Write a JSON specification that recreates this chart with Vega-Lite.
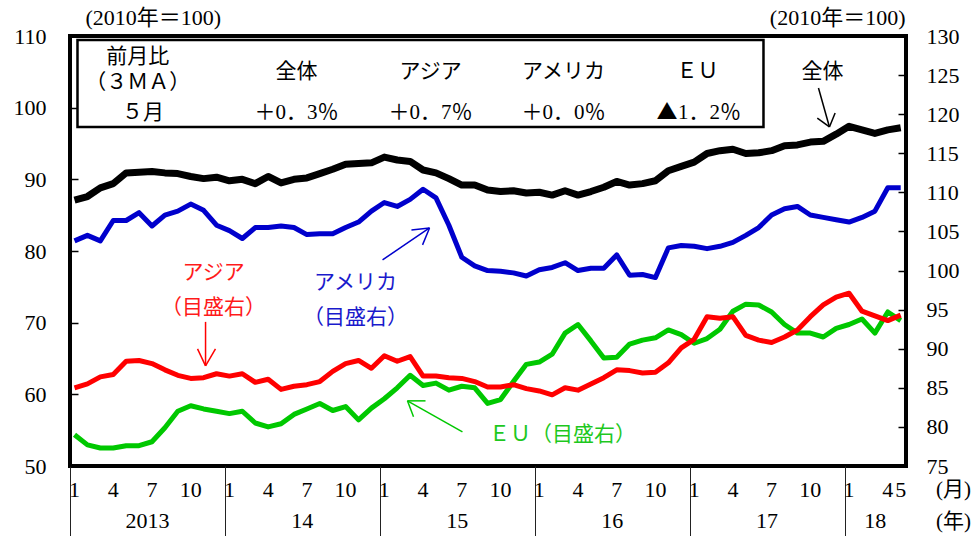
{
  "$schema": "https://vega.github.io/schema/vega-lite/v6.json",
  "width": 836,
  "height": 430,
  "autosize": {"type": "none"},
  "padding": {"left": 70, "top": 36, "right": 71, "bottom": 70},
  "background": "white",
  "config": {
    "view": {"stroke": "black", "strokeWidth": 4},
    "axis": {"grid": false, "domain": false, "labelFont": "Liberation Serif", "labelFontSize": 22, "labelColor": "black", "tickColor": "black", "labelOverlap": false, "labelFlush": false},
    "text": {"font": "'Liberation Serif', 'Noto Sans CJK JP', serif", "fontSize": 21, "baseline": "middle", "align": "center", "color": "black"}
  },
  "datasets": {
    "exports": [
      {"t":0,"m":"2013-01","mo":1,"total":87.1,"asia":85.0,"america":103.8,"eu":79.0},
      {"t":1,"m":"2013-02","mo":2,"total":87.6,"asia":85.5,"america":104.5,"eu":77.7},
      {"t":2,"m":"2013-03","mo":3,"total":88.8,"asia":86.4,"america":103.8,"eu":77.3},
      {"t":3,"m":"2013-04","mo":4,"total":89.4,"asia":86.7,"america":106.4,"eu":77.3},
      {"t":4,"m":"2013-05","mo":5,"total":90.9,"asia":88.4,"america":106.4,"eu":77.6},
      {"t":5,"m":"2013-06","mo":6,"total":91.0,"asia":88.5,"america":107.4,"eu":77.6},
      {"t":6,"m":"2013-07","mo":7,"total":91.1,"asia":88.1,"america":105.7,"eu":78.1},
      {"t":7,"m":"2013-08","mo":8,"total":90.9,"asia":87.3,"america":107.1,"eu":79.9},
      {"t":8,"m":"2013-09","mo":9,"total":90.8,"asia":86.6,"america":107.6,"eu":82.0},
      {"t":9,"m":"2013-10","mo":10,"total":90.4,"asia":86.2,"america":108.5,"eu":82.7},
      {"t":10,"m":"2013-11","mo":11,"total":90.1,"asia":86.3,"america":107.7,"eu":82.3},
      {"t":11,"m":"2013-12","mo":12,"total":90.3,"asia":86.8,"america":105.8,"eu":82.0},
      {"t":12,"m":"2014-01","mo":1,"total":89.8,"asia":86.5,"america":105.1,"eu":81.7},
      {"t":13,"m":"2014-02","mo":2,"total":90.0,"asia":86.8,"america":104.1,"eu":82.0},
      {"t":14,"m":"2014-03","mo":3,"total":89.4,"asia":85.7,"america":105.5,"eu":80.5},
      {"t":15,"m":"2014-04","mo":4,"total":90.4,"asia":86.1,"america":105.5,"eu":80.0},
      {"t":16,"m":"2014-05","mo":5,"total":89.5,"asia":84.8,"america":105.7,"eu":80.4},
      {"t":17,"m":"2014-06","mo":6,"total":90.0,"asia":85.2,"america":105.5,"eu":81.6},
      {"t":18,"m":"2014-07","mo":7,"total":90.2,"asia":85.4,"america":104.6,"eu":82.3},
      {"t":19,"m":"2014-08","mo":8,"total":90.8,"asia":85.8,"america":104.7,"eu":83.0},
      {"t":20,"m":"2014-09","mo":9,"total":91.4,"asia":87.1,"america":104.7,"eu":82.1},
      {"t":21,"m":"2014-10","mo":10,"total":92.1,"asia":88.1,"america":105.5,"eu":82.6},
      {"t":22,"m":"2014-11","mo":11,"total":92.2,"asia":88.5,"america":106.2,"eu":80.9},
      {"t":23,"m":"2014-12","mo":12,"total":92.3,"asia":87.5,"america":107.6,"eu":82.4},
      {"t":24,"m":"2015-01","mo":1,"total":93.1,"asia":89.1,"america":108.7,"eu":83.6},
      {"t":25,"m":"2015-02","mo":2,"total":92.7,"asia":88.4,"america":108.2,"eu":85.0},
      {"t":26,"m":"2015-03","mo":3,"total":92.5,"asia":89.0,"america":109.1,"eu":86.6},
      {"t":27,"m":"2015-04","mo":4,"total":91.3,"asia":86.5,"america":110.4,"eu":85.3},
      {"t":28,"m":"2015-05","mo":5,"total":90.9,"asia":86.5,"america":109.3,"eu":85.6},
      {"t":29,"m":"2015-06","mo":6,"total":90.1,"asia":86.3,"america":105.8,"eu":84.7},
      {"t":30,"m":"2015-07","mo":7,"total":89.2,"asia":86.2,"america":101.7,"eu":85.2},
      {"t":31,"m":"2015-08","mo":8,"total":89.2,"asia":85.8,"america":100.6,"eu":85.0},
      {"t":32,"m":"2015-09","mo":9,"total":88.5,"asia":85.1,"america":100.0,"eu":83.0},
      {"t":33,"m":"2015-10","mo":10,"total":88.3,"asia":85.1,"america":99.9,"eu":83.5},
      {"t":34,"m":"2015-11","mo":11,"total":88.4,"asia":85.4,"america":99.7,"eu":85.8},
      {"t":35,"m":"2015-12","mo":12,"total":88.1,"asia":84.9,"america":99.3,"eu":88.0},
      {"t":36,"m":"2016-01","mo":1,"total":88.2,"asia":84.6,"america":100.1,"eu":88.3},
      {"t":37,"m":"2016-02","mo":2,"total":87.8,"asia":84.1,"america":100.4,"eu":89.3},
      {"t":38,"m":"2016-03","mo":3,"total":88.4,"asia":85.0,"america":101.0,"eu":92.0},
      {"t":39,"m":"2016-04","mo":4,"total":87.8,"asia":84.7,"america":100.0,"eu":93.1},
      {"t":40,"m":"2016-05","mo":5,"total":88.3,"asia":85.5,"america":100.3,"eu":91.0},
      {"t":41,"m":"2016-06","mo":6,"total":88.9,"asia":86.3,"america":100.3,"eu":88.8},
      {"t":42,"m":"2016-07","mo":7,"total":89.7,"asia":87.3,"america":102.0,"eu":88.9},
      {"t":43,"m":"2016-08","mo":8,"total":89.2,"asia":87.2,"america":99.4,"eu":90.6},
      {"t":44,"m":"2016-09","mo":9,"total":89.4,"asia":86.9,"america":99.5,"eu":91.1},
      {"t":45,"m":"2016-10","mo":10,"total":89.8,"asia":87.0,"america":99.1,"eu":91.4},
      {"t":46,"m":"2016-11","mo":11,"total":91.2,"asia":88.2,"america":102.9,"eu":92.4},
      {"t":47,"m":"2016-12","mo":12,"total":91.8,"asia":90.1,"america":103.2,"eu":91.8},
      {"t":48,"m":"2017-01","mo":1,"total":92.4,"asia":91.2,"america":103.1,"eu":90.7},
      {"t":49,"m":"2017-02","mo":2,"total":93.6,"asia":94.1,"america":102.8,"eu":91.3},
      {"t":50,"m":"2017-03","mo":3,"total":94.0,"asia":93.9,"america":103.1,"eu":92.5},
      {"t":51,"m":"2017-04","mo":4,"total":94.2,"asia":94.1,"america":103.6,"eu":94.8},
      {"t":52,"m":"2017-05","mo":5,"total":93.6,"asia":91.7,"america":104.5,"eu":95.7},
      {"t":53,"m":"2017-06","mo":6,"total":93.7,"asia":91.1,"america":105.5,"eu":95.6},
      {"t":54,"m":"2017-07","mo":7,"total":94.0,"asia":90.8,"america":107.1,"eu":94.7},
      {"t":55,"m":"2017-08","mo":8,"total":94.7,"asia":91.5,"america":107.9,"eu":93.1},
      {"t":56,"m":"2017-09","mo":9,"total":94.8,"asia":92.4,"america":108.2,"eu":92.0},
      {"t":57,"m":"2017-10","mo":10,"total":95.2,"asia":94.1,"america":107.1,"eu":92.0},
      {"t":58,"m":"2017-11","mo":11,"total":95.3,"asia":95.6,"america":106.8,"eu":91.5},
      {"t":59,"m":"2017-12","mo":12,"total":96.3,"asia":96.6,"america":106.5,"eu":92.6},
      {"t":60,"m":"2018-01","mo":1,"total":97.4,"asia":97.1,"america":106.2,"eu":93.1},
      {"t":61,"m":"2018-02","mo":2,"total":96.9,"asia":94.8,"america":106.8,"eu":93.8},
      {"t":62,"m":"2018-03","mo":3,"total":96.4,"asia":94.2,"america":107.6,"eu":92.0},
      {"t":63,"m":"2018-04","mo":4,"total":96.9,"asia":93.6,"america":110.6,"eu":94.7},
      {"t":64,"m":"2018-05","mo":5,"total":97.2,"asia":94.3,"america":110.6,"eu":93.6}
    ]
  },
  "layer": [
    {
      "data": {"values": [{}]},
      "layer": [
        {
          "data": {"name": "exports"},
          "mark": {"type": "line", "color": "black", "strokeWidth": 7, "strokeJoin": "round"},
          "encoding": {
            "x": {"field": "t", "type": "quantitative", "scale": {"domain": [-0.35, 64.41], "nice": false, "zero": false},
              "axis": {"orient": "bottom", "labels": false, "ticks": false, "domain": false, "grid": false, "title": null}},
            "y": {"field": "total", "type": "quantitative", "scale": {"domain": [50, 110], "nice": false, "zero": false},
              "axis": {"orient": "left", "values": [50,60,70,80,90,100,110], "tickSize": -8, "tickWidth": 1.5, "labelPadding": 32, "domain": false, "grid": false, "title": null}}
          }
        },
        {
          "data": {"name": "exports"},
          "transform": [{"filter": "datum.mo == 1 || datum.mo == 4 || datum.mo == 7 || datum.mo == 10 || datum.t == 64"}],
          "mark": {"type": "text", "fontSize": 22, "font": "Liberation Serif"},
          "encoding": {"x": {"field": "t", "type": "quantitative"}, "y": {"datum": 46.68}, "text": {"field": "mo", "type": "quantitative"}}
        },
        {"mark": {"type": "rect", "fill": "white", "stroke": "black", "strokeWidth": 2.5},
         "encoding": {"x": {"datum": 0.23}, "x2": {"datum": 53.37}, "y": {"datum": 109.44}, "y2": {"datum": 97.31}}},
        {"mark": {"type": "text", "text": "前月比"}, "encoding": {"x": {"datum": 4.9}, "y": {"datum": 107.07}}},
        {"mark": {"type": "text", "text": "（３ＭＡ）"}, "encoding": {"x": {"datum": 4.9}, "y": {"datum": 103.44}}},
        {"mark": {"type": "text", "text": "５月"}, "encoding": {"x": {"datum": 5.3}, "y": {"datum": 99.26}}},
        {"mark": {"type": "text", "text": "全体"}, "encoding": {"x": {"datum": 17.2}, "y": {"datum": 104.98}}},
        {"mark": {"type": "text", "text": "アジア"}, "encoding": {"x": {"datum": 27.58}, "y": {"datum": 104.98}}},
        {"mark": {"type": "text", "text": "アメリカ"}, "encoding": {"x": {"datum": 37.88}, "y": {"datum": 104.98}}},
        {"mark": {"type": "text", "text": "ＥＵ"}, "encoding": {"x": {"datum": 48.26}, "y": {"datum": 104.98}}},
        {"mark": {"type": "text", "text": "＋0．3％"}, "encoding": {"x": {"datum": 17.2}, "y": {"datum": 99.26}}},
        {"mark": {"type": "text", "text": "＋0．7％"}, "encoding": {"x": {"datum": 27.58}, "y": {"datum": 99.26}}},
        {"mark": {"type": "text", "text": "＋0．0％"}, "encoding": {"x": {"datum": 37.88}, "y": {"datum": 99.26}}},
        {"mark": {"type": "text", "text": "▲", "font": "Noto Sans CJK JP", "align": "right"}, "encoding": {"x": {"datum": 46.7}, "y": {"datum": 99.26}}},
        {"mark": {"type": "text", "text": "1．2％", "align": "left"}, "encoding": {"x": {"datum": 46.75}, "y": {"datum": 99.26}}},
        {"mark": {"type": "text", "text": "(2010年＝100)", "align": "left", "fontSize": 22}, "encoding": {"x": {"datum": 0.85}, "y": {"datum": 112.51}}},
        {"mark": {"type": "text", "text": "(2010年＝100)", "align": "right", "fontSize": 22}, "encoding": {"x": {"datum": 64.37}, "y": {"datum": 112.51}}},
        {"mark": {"type": "text", "text": "全体"}, "encoding": {"x": {"datum": 57.94}, "y": {"datum": 104.98}}},
        {"mark": {"type": "rule", "color": "black", "strokeWidth": 1.5}, "encoding": {"x": {"datum": 57.63}, "y": {"datum": 102.75}, "x2": {"datum": 58.48}, "y2": {"datum": 97.31}}},
        {"mark": {"type": "rule", "color": "black", "strokeWidth": 1.5}, "encoding": {"x": {"datum": 58.92}, "y": {"datum": 99.25}, "x2": {"datum": 58.48}, "y2": {"datum": 97.31}}},
        {"mark": {"type": "rule", "color": "black", "strokeWidth": 1.5}, "encoding": {"x": {"datum": 57.54}, "y": {"datum": 98.55}, "x2": {"datum": 58.48}, "y2": {"datum": 97.31}}},
        {"mark": {"type": "text", "text": "アジア", "color": "#ff1a1a"}, "encoding": {"x": {"datum": 10.77}, "y": {"datum": 76.95}}},
        {"mark": {"type": "text", "text": "（目盛右）", "color": "#ff1a1a"}, "encoding": {"x": {"datum": 10.77}, "y": {"datum": 72.06}}},
        {"mark": {"type": "rule", "color": "#ff0000", "strokeWidth": 1.5}, "encoding": {"x": {"datum": 10.15}, "y": {"datum": 70.11}, "x2": {"datum": 10.15}, "y2": {"datum": 63.98}}},
        {"mark": {"type": "rule", "color": "#ff0000", "strokeWidth": 1.5}, "encoding": {"x": {"datum": 9.53}, "y": {"datum": 66.35}, "x2": {"datum": 10.15}, "y2": {"datum": 63.98}}},
        {"mark": {"type": "rule", "color": "#ff0000", "strokeWidth": 1.5}, "encoding": {"x": {"datum": 10.92}, "y": {"datum": 66.35}, "x2": {"datum": 10.15}, "y2": {"datum": 63.98}}},
        {"mark": {"type": "text", "text": "アメリカ", "color": "#1a1acc"}, "encoding": {"x": {"datum": 21.77}, "y": {"datum": 75.55}}},
        {"mark": {"type": "text", "text": "（目盛右）", "color": "#1a1acc"}, "encoding": {"x": {"datum": 21.77}, "y": {"datum": 70.67}}},
        {"mark": {"type": "rule", "color": "#0000cc", "strokeWidth": 1.5}, "encoding": {"x": {"datum": 23.86}, "y": {"datum": 78.76}, "x2": {"datum": 27.5}, "y2": {"datum": 83.22}}},
        {"mark": {"type": "rule", "color": "#0000cc", "strokeWidth": 1.5}, "encoding": {"x": {"datum": 26.1}, "y": {"datum": 82.94}, "x2": {"datum": 27.5}, "y2": {"datum": 83.22}}},
        {"mark": {"type": "rule", "color": "#0000cc", "strokeWidth": 1.5}, "encoding": {"x": {"datum": 26.96}, "y": {"datum": 80.85}, "x2": {"datum": 27.5}, "y2": {"datum": 83.22}}},
        {"mark": {"type": "text", "text": "ＥＵ（目盛右）", "color": "#1ec81e"}, "encoding": {"x": {"datum": 37.8}, "y": {"datum": 54.35}}},
        {"mark": {"type": "rule", "color": "#00c800", "strokeWidth": 1.5}, "encoding": {"x": {"datum": 30.05}, "y": {"datum": 54.77}, "x2": {"datum": 25.79}, "y2": {"datum": 59.09}}},
        {"mark": {"type": "rule", "color": "#00c800", "strokeWidth": 1.5}, "encoding": {"x": {"datum": 27.19}, "y": {"datum": 59.09}, "x2": {"datum": 25.79}, "y2": {"datum": 59.09}}},
        {"mark": {"type": "rule", "color": "#00c800", "strokeWidth": 1.5}, "encoding": {"x": {"datum": 26.26}, "y": {"datum": 56.86}, "x2": {"datum": 25.79}, "y2": {"datum": 59.09}}},
        {"mark": {"type": "text", "text": "2013", "fontSize": 22}, "encoding": {"x": {"datum": 5.65}, "y": {"datum": 42.36}}},
        {"mark": {"type": "text", "text": "14", "fontSize": 22}, "encoding": {"x": {"datum": 17.65}, "y": {"datum": 42.36}}},
        {"mark": {"type": "text", "text": "15", "fontSize": 22}, "encoding": {"x": {"datum": 29.65}, "y": {"datum": 42.36}}},
        {"mark": {"type": "text", "text": "16", "fontSize": 22}, "encoding": {"x": {"datum": 41.65}, "y": {"datum": 42.36}}},
        {"mark": {"type": "text", "text": "17", "fontSize": 22}, "encoding": {"x": {"datum": 53.65}, "y": {"datum": 42.36}}},
        {"mark": {"type": "text", "text": "18", "fontSize": 22}, "encoding": {"x": {"datum": 62.03}, "y": {"datum": 42.36}}},
        {"mark": {"type": "text", "text": "(月)"}, "encoding": {"x": {"datum": 68.09}, "y": {"datum": 46.68}}},
        {"mark": {"type": "text", "text": "(年)"}, "encoding": {"x": {"datum": 68.09}, "y": {"datum": 42.22}}}
      ]
    },
    {
      "data": {"name": "exports"},
      "transform": [{"fold": ["eu", "america", "asia"], "as": ["series", "value"]}],
      "mark": {"type": "line", "strokeWidth": 5, "strokeJoin": "round"},
      "encoding": {
        "x": {"field": "t", "type": "quantitative",
          "axis": {"orient": "bottom", "values": [-0.35, 11.65, 23.65, 35.65, 47.65, 59.65], "labels": false, "ticks": true, "tickSize": 70, "tickColor": "#222222", "tickWidth": 1, "domain": false, "grid": false, "title": null}},
        "y": {"field": "value", "type": "quantitative", "scale": {"domain": [75, 130], "nice": false, "zero": false},
          "axis": {"orient": "right", "values": [75,80,85,90,95,100,105,110,115,120,125,130], "tickSize": -8, "tickWidth": 1.5, "labelPadding": 28, "domain": false, "grid": false, "title": null}},
        "color": {"field": "series", "type": "nominal", "scale": {"domain": ["asia", "america", "eu"], "range": ["#ff0000", "#0000cc", "#00c800"]}, "legend": null}
      }
    }
  ],
  "resolve": {"scale": {"y": "independent"}, "axis": {"x": "independent"}}
}
